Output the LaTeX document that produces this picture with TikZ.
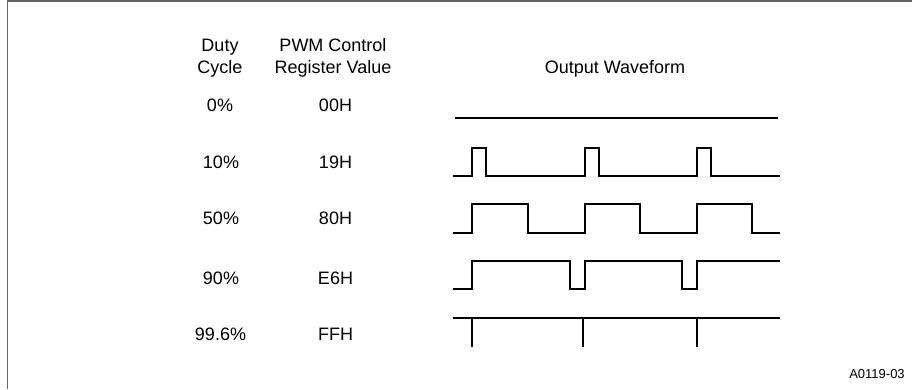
\documentclass[tikz,border=0pt]{standalone}
\usepackage{fontspec}
\setmainfont{Liberation Sans}
\begin{document}
\begin{tikzpicture}[x=1pt,y=-1pt,
  lbl/.style={inner sep=0pt,align=center,font=\fontsize{18}{22}\selectfont},
  small/.style={inner sep=0pt,font=\fontsize{13}{15}\selectfont},
  wave/.style={line width=2pt,line join=miter,black},
  frame/.style={draw=black!60,line width=1.6pt}]
\useasboundingbox (0,0) rectangle (912,389);
% frame
\draw[frame] (7.5,389) -- (7.5,1) -- (912,1);
% headers
\node[lbl] (dutyh) at (220,58) {Duty\\Cycle};
\node[lbl] (regh) at (333,58) {PWM Control\\Register Value};
\node[lbl] (outh) at (615,69) {Output Waveform};
% rows
\node[lbl] (d0) at (220,105.5) {0\%};
\node[lbl] (r0) at (335.5,105.5) {00H};
\node[lbl] (d10) at (221,162) {10\%};
\node[lbl] (r10) at (335.5,162) {19H};
\node[lbl] (d50) at (221,218.5) {50\%};
\node[lbl] (r50) at (335.5,218.5) {80H};
\node[lbl] (d90) at (221,278) {90\%};
\node[lbl] (r90) at (335.5,278) {E6H};
\node[lbl] (d99) at (220.5,334) {99.6\%};
\node[lbl] (r99) at (335.5,334) {FFH};
\node[small] (fig) at (877,374.5) {A0119-03};
% waveforms
\draw[wave] (455,118) -- (778,118);
\draw[wave] (453,176) -- (472,176) -- (472,148) -- (486,148) -- (486,176)
  -- (584.5,176) -- (584.5,148) -- (598.5,148) -- (598.5,176)
  -- (697,176) -- (697,148) -- (711,148) -- (711,176) -- (780,176);
\draw[wave] (453,233) -- (472,233) -- (472,204) -- (528,204) -- (528,233)
  -- (584.5,233) -- (584.5,204) -- (639.5,204) -- (639.5,233)
  -- (697,233) -- (697,204) -- (752,204) -- (752,233) -- (780,233);
\draw[wave] (453,289) -- (472,289) -- (472,261) -- (569.5,261) -- (569.5,289)
  -- (584.5,289) -- (584.5,261) -- (682,261) -- (682,289)
  -- (697,289) -- (697,261) -- (780,261);
\draw[wave] (453,318) -- (780,318);
\draw[wave] (472,318) -- (472,347);
\draw[wave] (583,318) -- (583,347);
\draw[wave] (697,318) -- (697,347);
\end{tikzpicture}
\end{document}
